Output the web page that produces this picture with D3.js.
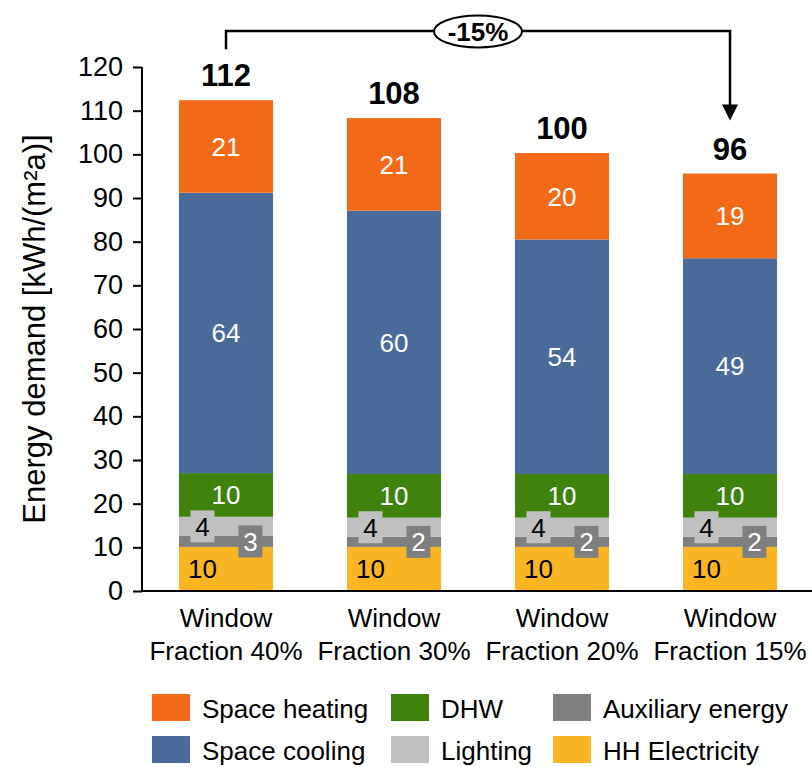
<!DOCTYPE html>
<html>
<head>
<meta charset="utf-8">
<script src="https://cdn.jsdelivr.net/npm/d3@7"></script>
<style>
  html, body { margin: 0; padding: 0; background: #fff; }
  svg { display: block; font-family: "Liberation Sans", Arial, sans-serif; }
</style>
</head>
<body>
<svg id="chart" width="812" height="767"></svg>
<script>
// Categories (x axis) – each label split over two lines
const categories = ["Window\nFraction 40%", "Window\nFraction 30%", "Window\nFraction 20%", "Window\nFraction 15%"];

// Stack order, bottom to top
const seriesNames = ["HH Electricity", "Auxiliary energy", "Lighting", "DHW", "Space cooling", "Space heating"];

// Energy demand per use, kWh/(m²a)
const hhElectricity = [10.1, 10.1, 10.1, 10.1];
const auxiliary     = [2.5, 2.3, 2.3, 2.3];
const lighting      = [4.4, 4.4, 4.4, 4.4];
const dhw           = [10.0, 10.0, 10.0, 10.0];
const spaceCooling  = [64.2, 60.3, 53.7, 49.4];
const spaceHeating  = [21.2, 21.2, 19.8, 19.4];

const yTicks = [0, 10, 20, 30, 40, 50, 60, 70, 80, 90, 100, 110, 120];

// Legend layout order (two rows of three)
const legendOrder = ["Space heating", "DHW", "Auxiliary energy", "Space cooling", "Lighting", "HH Electricity"];

const reductionLabel = "-15%";

const colors = {
  "Space heating": "#f26a17",
  "Space cooling": "#4a6a99",
  "DHW": "#3f820e",
  "Auxiliary energy": "#7f7f7f",
  "Lighting": "#c0c0c0",
  "HH Electricity": "#f9b523"
};

const valuesBySeries = {
  "HH Electricity": hhElectricity,
  "Auxiliary energy": auxiliary,
  "Lighting": lighting,
  "DHW": dhw,
  "Space cooling": spaceCooling,
  "Space heating": spaceHeating
};

const table = categories.map((c, i) => {
  const row = { category: c };
  seriesNames.forEach(s => row[s] = valuesBySeries[s][i]);
  return row;
});

const svg = d3.select("#chart");

const x = d3.scaleBand().domain(categories).range([142, 814]).paddingInner(0.44).paddingOuter(0.22);
const y = d3.scaleLinear().domain([0, 120]).range([591, 67]);

const stack = d3.stack().keys(seriesNames)(table);

// Stacked bars
const layers = svg.append("g").selectAll("g").data(stack).join("g")
  .attr("fill", d => colors[d.key]);

layers.selectAll("rect").data(d => d.map(p => ({ p, key: d.key }))).join("rect")
  .attr("x", d => x(d.p.data.category))
  .attr("width", x.bandwidth())
  .attr("y", d => y(d.p[1]))
  .attr("height", d => y(d.p[0]) - y(d.p[1]));

// Segment value labels
const labelStyle = {
  "HH Electricity":   { fx: 0.25, fill: "#000", box: null },
  "Auxiliary energy": { fx: 0.76, fill: "#fff", box: colors["Auxiliary energy"] },
  "Lighting":         { fx: 0.25, fill: "#000", box: colors["Lighting"] },
  "DHW":              { fx: 0.5,  fill: "#fff", box: null },
  "Space cooling":    { fx: 0.5,  fill: "#fff", box: null },
  "Space heating":    { fx: 0.5,  fill: "#fff", box: null }
};

const labelG = svg.append("g");
stack.forEach(layer => {
  const st = labelStyle[layer.key];
  layer.forEach(p => {
    const cx = x(p.data.category) + x.bandwidth() * st.fx;
    const cy = (y(p[0]) + y(p[1])) / 2;
    if (st.box) {
      labelG.append("rect")
        .attr("x", cx - 12).attr("y", cy - 16)
        .attr("width", 24).attr("height", 32)
        .attr("fill", st.box);
    }
    labelG.append("text")
      .attr("x", cx).attr("y", cy)
      .attr("dy", "0.36em")
      .attr("text-anchor", "middle")
      .attr("font-size", 26)
      .attr("fill", st.fill)
      .text(Math.round(p[1] - p[0]));
  });
});

// Totals above bars
const topLayer = stack[stack.length - 1];
svg.append("g").selectAll("text").data(topLayer).join("text")
  .attr("x", d => x(d.data.category) + x.bandwidth() / 2)
  .attr("y", d => y(d[1]) - 14)
  .attr("text-anchor", "middle")
  .attr("font-size", 31)
  .attr("font-weight", "bold")
  .text(d => Math.round(d[1]));

// Y axis
const yAxis = svg.append("g")
  .attr("transform", "translate(142,0)")
  .call(d3.axisLeft(y).tickValues(yTicks).tickSize(9).tickPadding(10));
yAxis.selectAll("path, line").attr("stroke", "#000").attr("stroke-width", 2);
yAxis.select(".domain").attr("d", `M0,${y(120)}V${y(0)}`);
yAxis.selectAll("text").attr("font-size", 27).attr("fill", "#000")
  .attr("font-family", "'Liberation Sans', Arial, sans-serif");

// X axis
const xAxis = svg.append("g")
  .attr("transform", `translate(0,${y(0)})`)
  .call(d3.axisBottom(x).tickSize(0).tickPadding(0));
xAxis.select(".domain").attr("stroke", "#000").attr("stroke-width", 2).attr("d", "M141,0H812");
xAxis.selectAll(".tick text").each(function (d) {
  const t = d3.select(this);
  t.text(null).attr("font-size", 26).attr("fill", "#000")
    .attr("font-family", "'Liberation Sans', Arial, sans-serif").attr("y", 0).attr("dy", null);
  d.split("\n").forEach((line, i) => {
    t.append("tspan").attr("x", 0).attr("y", 36 + i * 33).text(line);
  });
});

// Y axis title
svg.append("text")
  .attr("transform", "translate(45,329) rotate(-90)")
  .attr("text-anchor", "middle")
  .attr("font-size", 31)
  .text("Energy demand [kWh/(m²a)]");

// Reduction bracket from first to last bar
const x0 = x(categories[0]) + x.bandwidth() / 2;
const x1 = x(categories[categories.length - 1]) + x.bandwidth() / 2;
const bracketY = 31;
const ann = svg.append("g");
ann.append("path")
  .attr("d", `M${x0},${y(topLayer[0][1]) - 51}V${bracketY}H${x1}V${y(topLayer[3][1]) - 68}`)
  .attr("fill", "none").attr("stroke", "#000").attr("stroke-width", 2.5);
const tipY = y(topLayer[3][1]) - 53;
ann.append("path")
  .attr("d", `M${x1 - 8},${tipY - 16}L${x1 + 8},${tipY - 16}L${x1},${tipY}Z`)
  .attr("fill", "#000");
const ex = (x0 + x1) / 2;
ann.append("ellipse")
  .attr("cx", ex).attr("cy", bracketY + 0.5)
  .attr("rx", 44).attr("ry", 16)
  .attr("fill", "#fff").attr("stroke", "#000").attr("stroke-width", 2);
ann.append("text")
  .attr("x", ex).attr("y", bracketY + 0.5).attr("dy", "0.36em")
  .attr("text-anchor", "middle")
  .attr("font-size", 26).attr("font-weight", "bold")
  .text(reductionLabel);

// Legend
const legend = svg.append("g");
const colX = [152, 391, 553];
const rowY = [694, 736];
legendOrder.forEach((name, i) => {
  const gx = colX[i % 3], gy = rowY[Math.floor(i / 3)];
  legend.append("rect").attr("x", gx).attr("y", gy).attr("width", 38).attr("height", 27)
    .attr("fill", colors[name]);
  legend.append("text").attr("x", gx + 50).attr("y", gy + 24)
    .attr("font-size", 26).text(name);
});
</script>
</body>
</html>
